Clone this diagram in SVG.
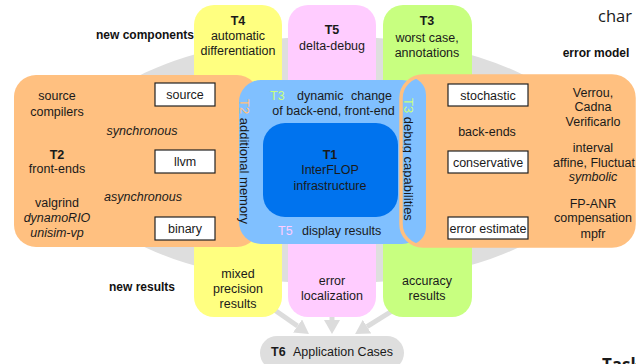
<svg xmlns="http://www.w3.org/2000/svg" width="636" height="364" viewBox="0 0 636 364">
<style>
text{font-family:"Liberation Sans",Arial,sans-serif;font-size:12.5px;fill:#1a1a1a}
.c{text-anchor:middle}
.b{font-weight:bold}
.i{font-style:italic}
.lbl{font-size:12px;font-weight:bold;fill:#111}
.box{fill:#fff;stroke:#222;stroke-width:1.2}
.org{fill:#ffc080}
.blu{fill:#80c0ff}
.vt{font-size:13px}
.arr{stroke:#dcdcdc;stroke-width:5;fill:none;marker-end:url(#ah)}
</style>
<defs>
<marker id="ah" markerUnits="userSpaceOnUse" markerWidth="16" markerHeight="16" refX="0" refY="8" orient="auto">
<path d="M0,0 L14,8 L0,16 z" fill="#dcdcdc"/>
</marker>
<clipPath id="rp"><rect x="401" y="76" width="233" height="170" rx="22"/></clipPath>
</defs>
<rect width="636" height="364" fill="#fff"/>
<ellipse id="bg" cx="332" cy="160" rx="263" ry="124" fill="#dedede"/>
<g id="connectors">
<line class="arr" x1="266" y1="304" x2="297.5" y2="326"/>
<line class="arr" x1="332" y1="305" x2="332" y2="320"/>
<line class="arr" x1="400" y1="306" x2="367" y2="326.6"/>
</g>
<g id="T4">
<rect x="194" y="5" width="88" height="312" rx="20" fill="#ffff80"/>
<text class="c b" x="238" y="25">T4</text>
<text class="c" x="238" y="40">automatic</text>
<text class="c" x="238" y="55">differentiation</text>
<text class="c" x="238" y="278">mixed</text>
<text class="c" x="238" y="293">precision</text>
<text class="c" x="238" y="308">results</text>
</g>
<g id="T5">
<rect x="288" y="5" width="88" height="312" rx="20" fill="#ffccff"/>
<text class="c b" x="332" y="34">T5</text>
<text class="c" x="332" y="50">delta-debug</text>
<text class="c" x="332" y="285">error</text>
<text class="c" x="332" y="300">localization</text>
</g>
<g id="T3">
<rect x="383" y="5" width="89" height="312" rx="20" fill="#c8ff80"/>
<text class="c b" x="427" y="25">T3</text>
<text class="c" x="427" y="42">worst case,</text>
<text class="c" x="427" y="57">annotations</text>
<text class="c" x="427" y="285">accuracy</text>
<text class="c" x="427" y="300">results</text>
</g>
<g id="labels">
<text class="lbl" x="194" y="39" text-anchor="end">new components</text>
<text class="lbl c" x="596" y="57">error model</text>
<text class="lbl c" x="142" y="291">new results</text>
<text x="598" y="22" style="font-family:'Open Sans',sans-serif;font-size:16.5px">char</text>
<text x="602" y="371" style="font-family:'Open Sans',sans-serif;font-size:17px;font-weight:bold">Task</text>
</g>
<g id="T2-frontends">
<rect class="org" x="14" y="75" width="245" height="172" rx="22"/>
<text class="c" x="57" y="100">source</text>
<text class="c" x="57" y="116">compilers</text>
<text class="c b" x="57" y="159">T2</text>
<text class="c" x="57" y="173">front-ends</text>
<text class="c" x="57" y="207">valgrind</text>
<text class="c i" x="57" y="222">dynamoRIO</text>
<text class="c i" x="57" y="237">unisim-vp</text>
<text class="c i" x="142" y="135">synchronous</text>
<text class="c i" x="143" y="201">asynchronous</text>
<rect class="box" x="155" y="83" width="60" height="23"/>
<text class="c" x="185" y="99">source</text>
<rect class="box" x="155" y="150" width="60" height="23"/>
<text class="c" x="185" y="166">llvm</text>
<rect class="box" x="155" y="217" width="60" height="23"/>
<text class="c" x="185" y="233">binary</text>
</g>
<g id="T1-interflop">
<rect class="blu" x="239" y="80" width="185" height="164" rx="22"/>
<text class="vt" transform="translate(240,99) rotate(90)"><tspan fill="#ffc080">T2</tspan> additional memory</text>
<text x="270" y="100"><tspan fill="#c8ff80">T3</tspan></text>
<text x="297" y="100">dynamic</text>
<text x="351" y="100">change</text>
<text class="c" x="333.5" y="115">of back-end, front-end</text>
<rect x="263" y="123" width="135" height="94" rx="22" fill="#0073ee"/>
<text class="c b" x="330" y="159">T1</text>
<text class="c" x="330" y="174">InterFLOP</text>
<text class="c" x="330" y="190">infrastructure</text>
<text x="278" y="235"><tspan fill="#ffccff">T5</tspan></text>
<text x="302" y="235">display results</text>
</g>
<g id="backends">
<rect class="org" x="401" y="76" width="233" height="170" rx="22"/>
<g clip-path="url(#rp)">
<rect class="blu" x="380" y="77" width="46" height="168" rx="18"/>
<text class="vt" transform="translate(404,98) rotate(90)"><tspan fill="#c8ff80">T3</tspan> debug capabilities</text>
</g>
<rect x="401" y="76" width="233" height="170" rx="22" fill="none" stroke="#ffc080" stroke-width="3.5"/>
<rect class="box" x="448" y="84" width="80" height="22"/>
<text class="c" x="488" y="100">stochastic</text>
<text class="c" x="487" y="136">back-ends</text>
<rect class="box" x="448" y="151" width="80" height="22"/>
<text class="c" x="488" y="167">conservative</text>
<rect class="box" x="448" y="217" width="80" height="22"/>
<text class="c" x="488" y="233">error estimate</text>
<text class="c" x="593" y="97">Verrou,</text>
<text class="c" x="593" y="111">Cadna</text>
<text class="c" x="593" y="126">Verificarlo</text>
<text class="c" x="593" y="152">interval</text>
<text class="c" x="594" y="167">affine, Fluctuat</text>
<text class="c i" x="593" y="181">symbolic</text>
<text class="c" x="593" y="208">FP-ANR</text>
<text class="c" x="593" y="222">compensation</text>
<text class="c" x="593" y="238">mpfr</text>
</g>
<g id="T6">
<rect x="260" y="336" width="144" height="34" rx="17" fill="#dedede"/>
<text x="271" y="356"><tspan class="b">T6</tspan><tspan x="293">Application Cases</tspan></text>
</g>
</svg>
